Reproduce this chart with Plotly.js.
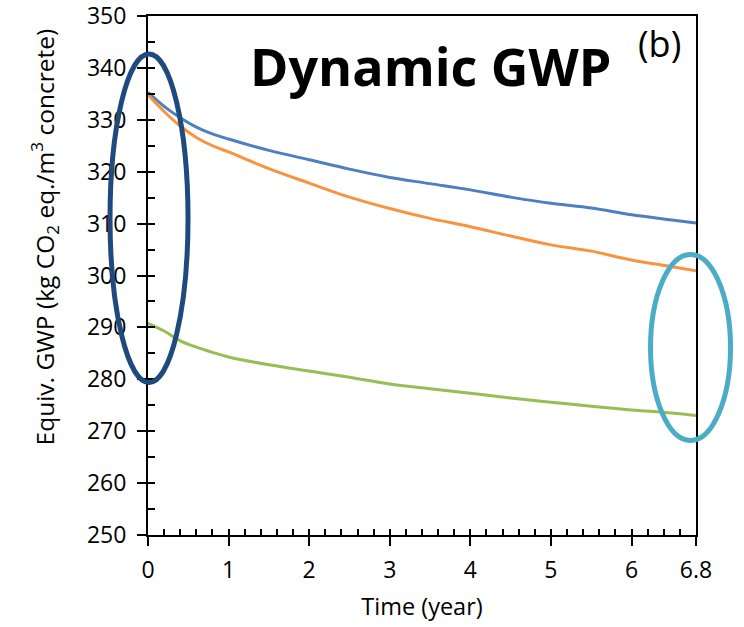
<!DOCTYPE html>
<html>
<head>
<meta charset="utf-8">
<script src="https://cdn.plot.ly/plotly-3.0.1.min.js"></script>
<style>html,body{margin:0;padding:0;background:#fff;}#chart{width:744px;height:627px;}</style>
</head>
<body>
<div id="chart"></div>
<script>
// Time (year)
const years = [0, 0.2, 0.4, 0.6, 0.8, 1.0, 1.5, 2.0, 2.5, 3.0, 3.5, 4.0, 4.5, 5.0, 5.5, 6.0, 6.5, 6.8];
// Equivalent GWP series (kg CO2 eq./m3 concrete)
const seriesBlue   = [335.3, 332.6, 330.4, 328.6, 327.3, 326.3, 324.1, 322.3, 320.5, 318.9, 317.7, 316.5, 315.1, 313.9, 313.0, 311.7, 310.7, 310.1];
const seriesOrange = [334.8, 331.6, 328.8, 326.6, 325.0, 323.8, 320.6, 317.8, 315.1, 312.9, 311.0, 309.4, 307.6, 305.9, 304.7, 303.0, 301.7, 300.9];
const seriesGreen  = [290.8, 289.3, 287.4, 286.2, 285.2, 284.3, 282.8, 281.6, 280.4, 279.1, 278.2, 277.3, 276.4, 275.6, 274.8, 274.1, 273.5, 273.0];
const xTickVals = [0, 1, 2, 3, 4, 5, 6, 6.8];
const xTickText = ['0', '1', '2', '3', '4', '5', '6', '6.8'];
const yRange = [250, 350];
const xRange = [0, 6.8];

const FONT = 'Open Sans, Noto Sans, sans-serif';

const traces = [
  {x: years, y: seriesBlue, mode: 'lines', line: {color: '#4e7fc0', width: 3, shape: 'spline'}, showlegend: false, hoverinfo: 'skip'},
  {x: years, y: seriesOrange, mode: 'lines', line: {color: '#f8933f', width: 3, shape: 'spline'}, showlegend: false, hoverinfo: 'skip'},
  {x: years, y: seriesGreen, mode: 'lines', line: {color: '#97bd55', width: 3, shape: 'spline'}, showlegend: false, hoverinfo: 'skip'},
  {x: [xRange[0]], y: [yRange[0]], xaxis: 'x2', yaxis: 'y2', mode: 'markers', marker: {opacity: 0}, showlegend: false, hoverinfo: 'skip'}
];

const layout = {
  width: 744, height: 627,
  margin: {l: 148, r: 48, t: 16, b: 92},
  paper_bgcolor: '#ffffff', plot_bgcolor: '#ffffff',
  font: {family: FONT, color: '#000'},
  showlegend: false,
  xaxis: {
    range: xRange, tickvals: xTickVals, ticktext: xTickText,
    showgrid: false, zeroline: false, showline: true, linecolor: '#000', linewidth: 2, mirror: true,
    ticks: 'outside', ticklen: 9, tickwidth: 2, tickcolor: '#000',
    tickfont: {size: 23, family: FONT}, ticklabelstandoff: 4, ticklabeloverflow: 'allow',
    title: {text: 'Time (year)', font: {size: 23.5, family: FONT}, standoff: 15}
  },
  yaxis: {
    range: yRange, dtick: 10,
    showgrid: false, zeroline: false, showline: true, linecolor: '#000', linewidth: 2, mirror: true,
    ticks: 'outside', ticklen: 9, tickwidth: 2, tickcolor: '#000',
    tickfont: {size: 23, family: FONT}, ticklabelstandoff: 6, ticklabeloverflow: 'allow'
  },
  xaxis2: {
    overlaying: 'x', anchor: 'y2', range: xRange, dtick: 0.2, tick0: 0,
    showgrid: false, zeroline: false, showline: false, showticklabels: false,
    ticks: 'inside', ticklen: 6, tickwidth: 2, tickcolor: '#000'
  },
  yaxis2: {
    overlaying: 'y', anchor: 'x2', range: yRange, dtick: 5, tick0: 250,
    showgrid: false, zeroline: false, showline: false, showticklabels: false,
    ticks: 'inside', ticklen: 7, tickwidth: 2, tickcolor: '#000'
  },
  annotations: [
    {text: 'Equiv. GWP (kg CO<sub>2</sub> eq./m<sup>3</sup> concrete)', xref: 'paper', yref: 'paper',
     x: -0.19, y: 0.575, xanchor: 'center', yanchor: 'middle', textangle: -90, showarrow: false,
     font: {size: 24.5, family: FONT}},
    {text: '<b>Dynamic GWP</b>', xref: 'paper', yref: 'paper', x: 0.515, y: 0.977, xanchor: 'center', yanchor: 'top',
     showarrow: false, font: {size: 52, family: FONT}},
    {text: '(b)', xref: 'paper', yref: 'paper', x: 0.9325, y: 0.998, xanchor: 'center', yanchor: 'top',
     showarrow: false, font: {size: 36, family: FONT}}
  ],
  shapes: [
    {type: 'circle', xref: 'paper', yref: 'paper', x0: -0.0693, x1: 0.073, y0: 0.2938, y1: 0.9268,
     line: {color: '#1f4a7e', width: 5}},
    {type: 'circle', xref: 'paper', yref: 'paper', x0: 0.917, x1: 1.063, y0: 0.182, y1: 0.5405,
     line: {color: '#4bacc6', width: 5}}
  ]
};

Plotly.newPlot('chart', traces, layout, {displayModeBar: false, staticPlot: true});
</script>
</body>
</html>
